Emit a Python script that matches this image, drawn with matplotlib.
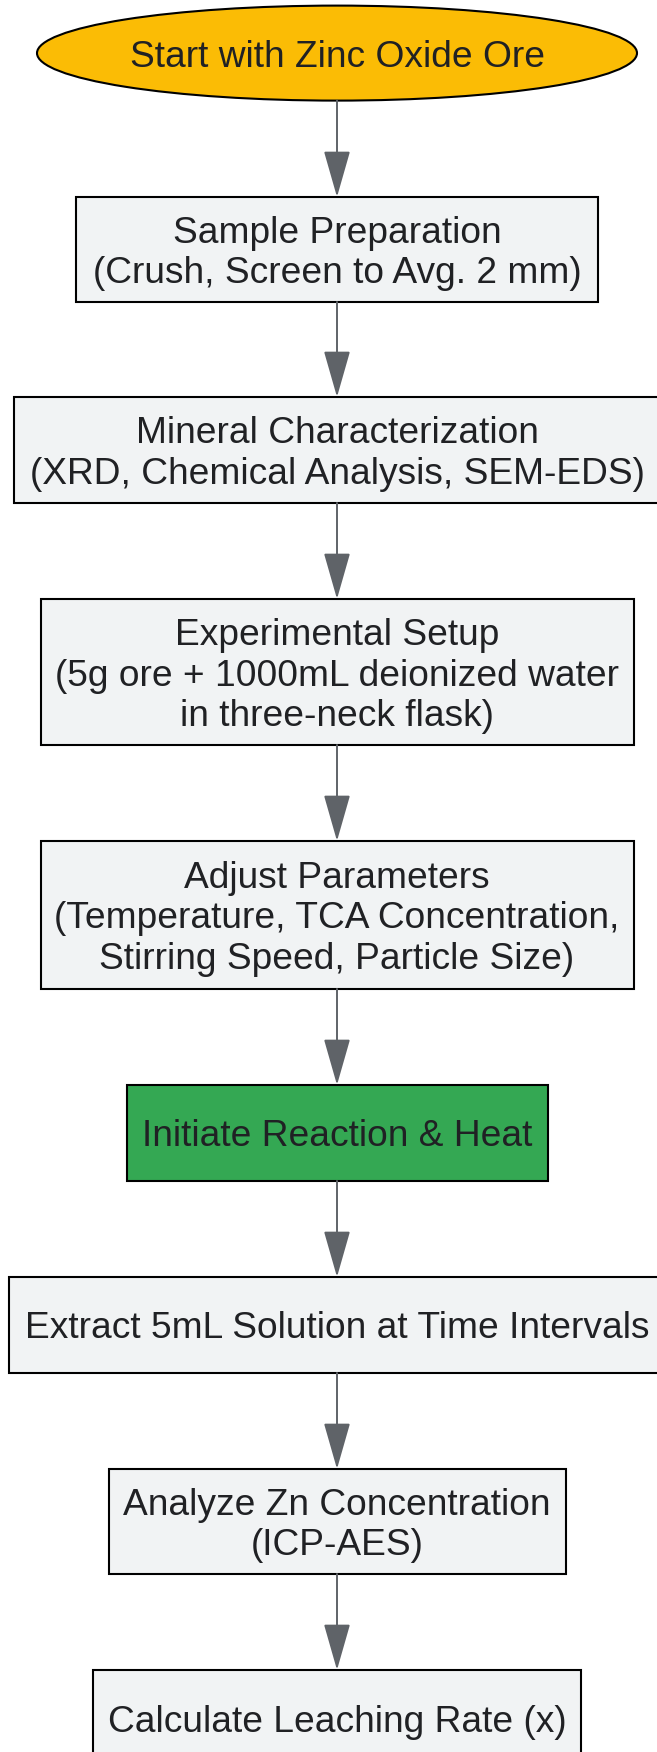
import matplotlib
matplotlib.use("Agg")
import matplotlib.pyplot as plt
from matplotlib.patches import Ellipse, Rectangle, FancyArrowPatch

plt.rcParams['font.family'] = ['Liberation Sans', 'DejaVu Sans']

# ---- content ----
labels = [
    "Start with Zinc Oxide Ore",
    "Sample Preparation\n(Crush, Screen to Avg. 2 mm)",
    "Mineral Characterization\n(XRD, Chemical Analysis, SEM-EDS)",
    "Experimental Setup\n(5g ore + 1000mL deionized water\nin three-neck flask)",
    "Adjust Parameters\n(Temperature, TCA Concentration,\nStirring Speed, Particle Size)",
    "Initiate Reaction & Heat",
    "Extract 5mL Solution at Time Intervals",
    "Analyze Zn Concentration\n(ICP-AES)",
    "Calculate Leaching Rate (x)",
]
shapes = ["ellipse", "box", "box", "box", "box", "box", "box", "box", "box"]
fills = ["#FBBC05", "#F1F3F4", "#F1F3F4", "#F1F3F4", "#F1F3F4",
         "#34A853", "#F1F3F4", "#F1F3F4", "#F1F3F4"]

# ---- layout (pixel units) ----
W, H = 657, 1752
cx = 337
node_top = [5.6, 197, 397, 599, 841, 1085, 1277, 1469, 1670]
node_h = [95, 105, 106, 146, 148, 96, 96, 105, 96]
node_w = [600, 522, 646, 593, 593, 421, 656, 457, 488]

fig = plt.figure(figsize=(W / 100, H / 100), dpi=100)
ax = fig.add_axes([0, 0, 1, 1])
ax.set_xlim(0, W)
ax.set_ylim(H, 0)
ax.axis("off")

FS = 26.7
for i, (lab, shp, fc) in enumerate(zip(labels, shapes, fills)):
    top, h, w = node_top[i], node_h[i], node_w[i]
    cy = top + h / 2
    if shp == "ellipse":
        p = Ellipse((cx, cy), w, h, facecolor=fc, edgecolor="black", lw=1.5)
    else:
        p = Rectangle((cx - w / 2, top), w, h, facecolor=fc, edgecolor="black", lw=1.5)
    ax.add_patch(p)
    ax.text(cx, cy + 4, lab, ha="center", va="center", fontsize=FS,
            color="#202124", linespacing=1.2)

for i in range(len(labels) - 1):
    y0 = node_top[i] + node_h[i]
    y1 = node_top[i + 1]
    arr = FancyArrowPatch((cx, y0), (cx, y1), arrowstyle="-|>,head_length=2.1,head_width=0.6",
                          mutation_scale=14, color="#5F6368", lw=1.4,
                          shrinkA=0, shrinkB=0)
    ax.add_patch(arr)

fig.savefig("out.png", dpi=100, facecolor="white")
